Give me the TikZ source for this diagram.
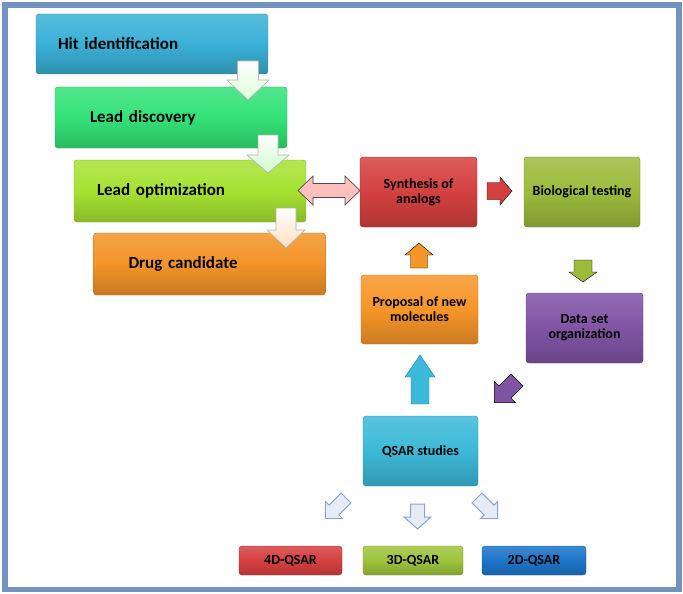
\documentclass[tikz,border=0pt]{standalone}
\usepackage{fontspec}
\setmainfont{Carlito}
\usepackage{tikz}

\definecolor{framecol}{RGB}{114,147,191}
\definecolor{hitcol}{RGB}{58,176,214}
\definecolor{leadcol}{RGB}{52,226,120}
\definecolor{optcol}{RGB}{166,226,50}
\definecolor{drugcol}{RGB}{243,148,40}
\definecolor{syncol}{RGB}{212,64,64}
\definecolor{biocol}{RGB}{155,187,60}
\definecolor{propcol}{RGB}{247,150,40}
\definecolor{datacol}{RGB}{128,84,164}
\definecolor{qsarcol}{RGB}{60,185,216}
\definecolor{dfourcol}{RGB}{214,64,64}
\definecolor{dthreecol}{RGB}{157,196,60}
\definecolor{dtwocol}{RGB}{28,117,200}
\definecolor{palecol}{RGB}{230,236,246}
\definecolor{paleline}{RGB}{140,164,204}

% block arrow: style, tail, angle, length, half shaft, half head, head length
\newcommand{\blockarrow}[7]{%
  \begin{scope}[shift={#2}, rotate=#3]
    \draw[#1] (0,-#5) -- (#4-#7,-#5) -- (#4-#7,-#6) -- (#4,0) -- (#4-#7,#6) -- (#4-#7,#5) -- (0,#5) -- cycle;
  \end{scope}}

\tikzset{
  box/.style={draw=#1!75!black, rounded corners=3pt, top color=#1!85!white,
    bottom color=#1!82!black, middle color=#1, text=black, align=center,
    inner sep=0pt, font=\fontsize{14}{15}\selectfont\bfseries},
  bigtext/.style={font=\fontsize{17}{19}\selectfont\bfseries, align=left},
  whitearrow/.style={draw=black!30, line width=0.6pt, top color=white, bottom color=#1},
  smallarrow/.style={draw=paleline, line width=1pt, fill=palecol},
}

\begin{document}
\begin{tikzpicture}[x=1pt, y=-1pt]
    \useasboundingbox (0,0) rectangle (683,594);
    % Frame
    \draw[framecol, line width=5.5pt] (4.8,4.8) rectangle (679,589.5);

    % Drug discovery steps
    \node[box=hitcol, bigtext, minimum width=232pt, minimum height=60pt, inner xsep=22pt, text width=188pt] (hit) at (152,44) {Hit identification};
    \node[box=leadcol, bigtext, minimum width=232pt, minimum height=61pt, inner xsep=35pt, text width=162pt] (lead) at (171,117.5) {Lead discovery};
    \node[box=optcol, bigtext, minimum width=232pt, minimum height=62pt, inner xsep=23pt, text width=186pt] (opt) at (190,191) {Lead optimization};
    \node[box=drugcol, bigtext, minimum width=232pt, minimum height=62pt, inner xsep=35pt, text width=162pt] (drug) at (209.5,264) {Drug candidate};

    % QSAR cycle
    \node[box=syncol, minimum width=117pt, minimum height=70pt] (syn) at (418.5,192) {Synthesis of\\analogs};
    \node[box=biocol, minimum width=116pt, minimum height=70pt] (bio) at (582,192) {Biological testing};
    \node[box=propcol, minimum width=117pt, minimum height=69pt] (prop) at (419.5,309.5) {Proposal of new\\molecules};
    \node[box=datacol, minimum width=117pt, minimum height=70pt] (data) at (584.5,328) {Data set\\organization};
    \node[box=qsarcol, minimum width=115pt, minimum height=70pt] (qsar) at (420.5,451) {QSAR studies};

    % QSAR types
    \node[box=dfourcol, minimum width=103pt, minimum height=29pt] (dfour) at (290.5,560.5) {4D-QSAR};
    \node[box=dthreecol, minimum width=100pt, minimum height=29pt] (dthree) at (413,560.5) {3D-QSAR};
    \node[box=dtwocol, minimum width=104pt, minimum height=29pt] (dtwo) at (534,560.5) {2D-QSAR};

    % Arrows
    \blockarrow{whitearrow=green!15}{(248,61)}{-90}{39}{10.5}{21}{20}
    \blockarrow{whitearrow=green!20}{(268,135)}{-90}{38}{10}{21}{18}
    \blockarrow{whitearrow=orange!25}{(286,208)}{-90}{40}{10}{19}{18}
    \draw[draw=black!70, fill=red!25, line width=0.7pt] (298,190.5) -- (313,176) -- (313,183.5) -- (345,183.5) -- (345,176)
        -- (360,190.5) -- (345,205) -- (345,197.5) -- (313,197.5) -- (313,205) -- cycle;
    \blockarrow{fill=syncol}{(487,191)}{0}{25}{8.5}{14}{12}
    \blockarrow{fill=biocol}{(583,260)}{-90}{22}{9}{14}{10}
    \blockarrow{fill=propcol}{(419,268)}{90}{25}{8.5}{14}{12}
    \blockarrow{fill=qsarcol, draw=qsarcol!70!black}{(420,404)}{90}{49}{9}{15}{22}
    \blockarrow{fill=datacol}{(517,380)}{-135}{32}{8.5}{15}{15}
    \blockarrow{smallarrow}{(346,498)}{-135}{29}{7}{12}{12}
    \blockarrow{smallarrow}{(417.5,504)}{-90}{25}{7}{13.5}{12}
    \blockarrow{smallarrow}{(477,498)}{-45}{29}{7}{12}{12}
\end{tikzpicture}
\end{document}
